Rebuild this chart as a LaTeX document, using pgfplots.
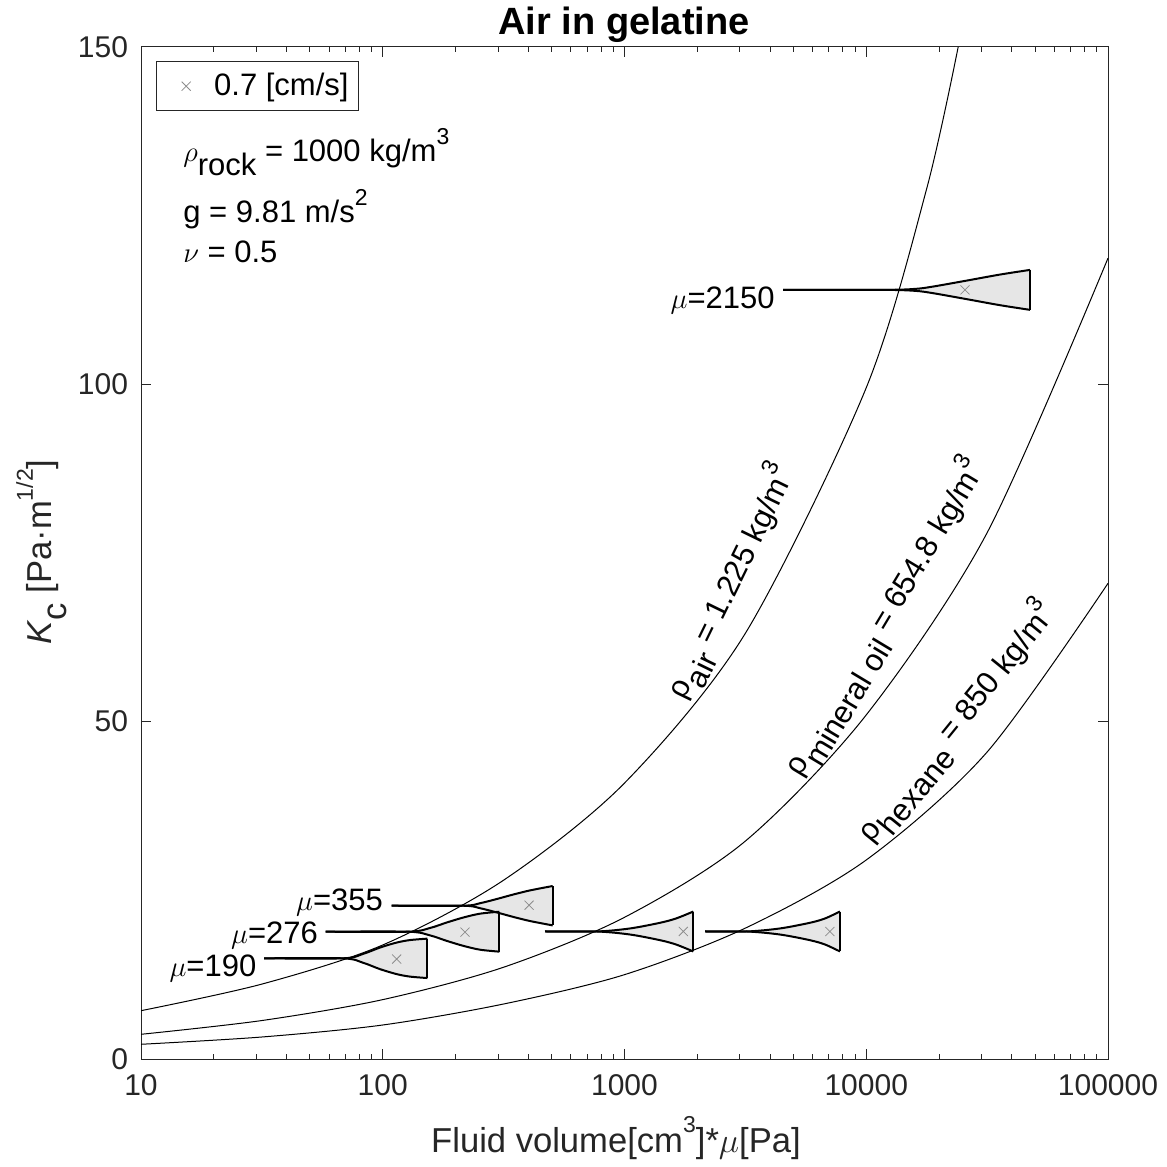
\documentclass[border=0pt]{standalone}
\usepackage{pgfplots}
\pgfplotsset{compat=1.18}
\usepackage{pgfplotstable}
\usepgfplotslibrary{fillbetween}
\usepackage{fontspec}
\setmainfont{Liberation Sans}

\definecolor{axgray}{HTML}{262626}
\definecolor{hornfill}{HTML}{E6E6E6}
\definecolor{mk}{HTML}{8C8C8C}
\newcommand\fs{\fontsize{15.5bp}{18bp}\selectfont}
\newcommand\sub[1]{\raisebox{-0.42em}{#1}}
\newcommand\sups[1]{\raisebox{0.55em}{\fontsize{11.5bp}{12bp}\selectfont #1}}

% horn shaped ranges: x, upper edge, lower edge
\pgfplotstableread{
x up lo
32.3 14.92 14.92
68.5 14.92 14.92
83.1 15.59 14.25
97.4 16.52 13.32
114.2 17.26 12.58
129.7 17.63 12.21
152.9 17.84 12.0
}\hA
\pgfplotstableread{
x up lo
58.1 18.87 18.87
127.6 18.87 18.87
156.9 19.42 18.32
183.9 20.23 17.51
215.4 20.97 16.77
252.5 21.54 16.2
303.5 21.83 15.91
}\hB
\pgfplotstableread{
x up lo
108.9 22.72 22.72
215.4 22.72 22.72
252.5 23.09 22.35
296 23.71 21.73
346.7 24.38 21.06
406.6 24.99 20.45
504.7 25.64 19.8
}\hC
\pgfplotstableread{
x up lo
469 18.9 18.9
767 18.9 18.9
1054 19.35 18.45
1403 20.19 17.61
1634 20.83 16.97
1926 21.86 15.94
}\hD
\pgfplotstableread{
x up lo
2155 18.9 18.9
3203 18.9 18.9
4396 19.35 18.45
5848 20.19 17.61
6752 20.83 16.97
7784 21.86 15.94
}\hE
\pgfplotstableread{
x up lo
4530 114 114
11960 114 114
16000 114.15 113.85
18890 114.49 113.51
25620 115.33 112.67
35750 116.27 111.73
47580 116.96 111.04
}\hF

\newcommand\horn[2]{%
  \addplot[name path=u#2, draw=none, smooth, forget plot] table[x=x,y=up]{#1};
  \addplot[name path=l#2, draw=none, smooth, forget plot] table[x=x,y=lo]{#1};
  \addplot[fill=hornfill, draw=none, forget plot] fill between[of=u#2 and l#2];
  \addplot[black, line width=1bp, smooth, forget plot] table[x=x,y=up]{#1};
  \addplot[black, line width=1bp, smooth, forget plot] table[x=x,y=lo]{#1};
}

\begin{document}
\begin{tikzpicture}
\begin{axis}[
  at={(0,0)}, anchor=south west,
  scale only axis, width=483.5bp, height=506bp,
  xmode=log, xmin=10, xmax=100000, ymin=0, ymax=150,
  xtick={10,100,1000,10000,100000},
  xticklabels={10,100,1000,10000,100000},
  minor xtick={20,30,40,50,60,70,80,90,200,300,400,500,600,700,800,900,2000,3000,4000,5000,6000,7000,8000,9000,20000,30000,40000,50000,60000,70000,80000,90000},
  ytick={0,50,100,150},
  tick align=inside,
  major tick length=5bp, minor tick length=2.5bp,
  axis line style={axgray, line width=0.5bp},
  every tick/.style={axgray, line width=0.5bp},
  tick label style={font=\fontsize{15bp}{18bp}\selectfont, text=axgray},
  xticklabel style={yshift=-4.5bp},
  yticklabel style={xshift=-3bp},
  /pgf/number format/assume math mode=true,
  legend style={at={(0.0152,0.9862)}, anchor=north west, draw=axgray,
    line width=0.5bp, font=\fs, inner xsep=3bp, inner ysep=4bp},
  legend image code/.code={\path[draw=none] (0bp,0bp) -- (24bp,0bp);
    \draw[only marks] plot coordinates {(12bp,0bp)};},
]
% density curves
\addplot[black, line width=0.5bp, smooth, forget plot] coordinates {
(10,7.16) (31.6,11.1) (100,16.9) (316,26.5) (1000,40.9) (3162,63.1) (10000,99.5) (17783,129) (24000,150)};
\addplot[black, line width=0.5bp, smooth, forget plot] coordinates {
(10,3.66) (31.6,5.7) (100,8.8) (316,13.6) (1000,21.0) (3162,32.3) (10000,51) (31623,78) (100000,118.7)};
\addplot[black, line width=0.5bp, smooth, forget plot] coordinates {
(10,2.18) (31.6,3.26) (100,5.04) (316,8.15) (1000,12.5) (3162,19.4) (10000,29.5) (31623,45.5) (100000,70.5)};

\horn{\hA}{a}
\horn{\hB}{b}
\horn{\hC}{c}
\horn{\hD}{d}
\horn{\hE}{e}
\horn{\hF}{f}
\addplot[black, line width=1bp, forget plot] coordinates {(152.9,17.84) (152.9,12.0)};
\addplot[black, line width=1bp, forget plot] coordinates {(303.5,21.83) (303.5,15.91)};
\addplot[black, line width=1bp, forget plot] coordinates {(504.7,25.64) (504.7,19.8)};
\addplot[black, line width=1bp, forget plot] coordinates {(1926,21.86) (1926,15.94)};
\addplot[black, line width=1bp, forget plot] coordinates {(7784,21.86) (7784,15.94)};
\addplot[black, line width=1bp, forget plot] coordinates {(47580,116.96) (47580,111.04)};

\addplot[only marks, mark=x, mark size=3.2bp, mk, line width=0.4bp] coordinates {
(114.2,14.82) (218.9,18.8) (403,22.8) (1751,18.9) (7074,18.9) (25620,114.0)};
\addlegendentry{0.7 [cm/s]\hspace{5bp}}

\node[anchor=base east, font=\fs, inner sep=0pt] at (axis cs:30.1,12.2) {$\mu$=190};
\node[anchor=base east, font=\fs, inner sep=0pt] at (axis cs:54.1,17.15) {$\mu$=276};
\node[anchor=base east, font=\fs, inner sep=0pt] at (axis cs:100.5,22.08) {$\mu$=355};
\node[anchor=base east, font=\fs, inner sep=0pt] at (axis cs:4195,111.25) {$\mu$=2150};

\node[rotate=64, font=\fs] at (axis cs:2761,70.7) {ρ\sub{air} = 1.225 kg/m\sups{3}};
\node[rotate=59, font=\fs] at (axis cs:11970,65.4) {ρ\sub{mineral oil} = 654.8 kg/m\sups{3}};
\node[rotate=51, font=\fs] at (axis cs:23700,49.9) {ρ\sub{hexane} = 850 kg/m\sups{3}};
\end{axis}

\node[anchor=base, font=\bfseries\fontsize{19bp}{22bp}\selectfont] at (241.5bp,512bp) {Air in gelatine};
\node[anchor=base, font=\fontsize{17.3bp}{20bp}\selectfont, text=axgray] at (237.5bp,-46.5bp) {Fluid volume[cm\sups{3}]*$\mu$[Pa]};
\node[anchor=base, rotate=90, font=\fontsize{17.3bp}{20bp}\selectfont, text=axgray] at (-44.5bp,253.5bp) {\textit{K}\sub{c} [Pa·m\sups{1/2}]};
\node[anchor=base west, font=\fs, inner sep=0pt] at (21bp,448.5bp) {$\rho$\sub{rock} = 1000 kg/m\sups{3}};
\node[anchor=base west, font=\fs, inner sep=0pt] at (21bp,418bp) {g = 9.81 m/s\sups{2}};
\node[anchor=base west, font=\fs, inner sep=0pt] at (21bp,398bp) {$\nu$ = 0.5};
\pgfresetboundingbox
\path[use as bounding box] (-70.5bp,-54bp) rectangle (513bp,529.5bp);
\end{tikzpicture}
\end{document}
